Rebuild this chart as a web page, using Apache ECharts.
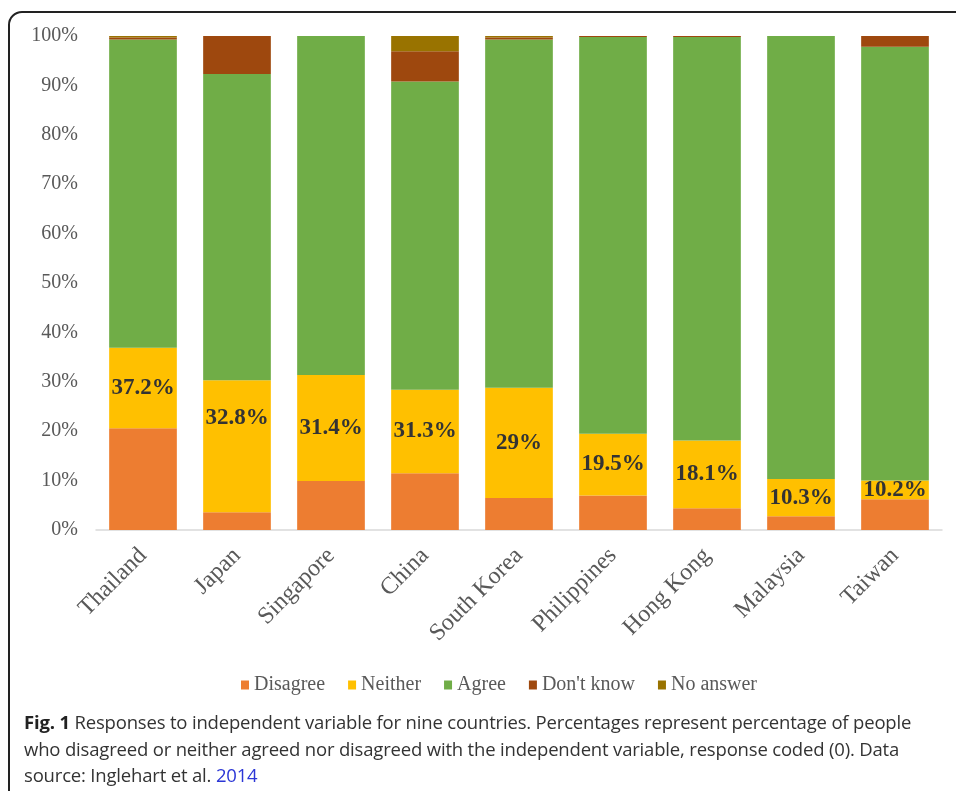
<!DOCTYPE html>
<html>
<head>
<meta charset="utf-8">
<script src="https://cdn.jsdelivr.net/npm/echarts@6/dist/echarts.min.js"></script>
<style>
  html, body { margin: 0; padding: 0; background: #fff; }
  body { width: 956px; height: 791px; position: relative; overflow: hidden; }
  .frame {
    position: absolute; left: 8px; top: 11px; width: 980px; height: 820px;
    border: 2px solid #222; border-radius: 14px; box-sizing: border-box;
  }
  #chart { position: absolute; left: 0; top: 0; width: 956px; height: 710px; }
  .caption {
    position: absolute; left: 24px; top: 709px; width: 930px; white-space: nowrap;
    font-family: "Open Sans", "Noto Sans", sans-serif; font-size: 18.5px;
    line-height: 26.5px; color: #333; letter-spacing: -0.18px;
  }
  .caption b { color: #222; }
  .caption a { color: #2b36d6; text-decoration: none; }
</style>
</head>
<body>
<div class="frame"></div>
<div id="chart"></div>
<div class="caption"><b>Fig. 1</b> Responses to independent variable for nine countries. Percentages represent percentage of people<br>who disagreed or neither agreed nor disagreed with the independent variable, response coded (0). Data<br>source: Inglehart et al. <a>2014</a></div>
<script>
// Countries along the x axis
const countries = ['Thailand', 'Japan', 'Singapore', 'China', 'South Korea',
                   'Philippines', 'Hong Kong', 'Malaysia', 'Taiwan'];

// Share of all respondents (%) per response
const disagree = [20.6, 3.6, 9.9, 11.5, 6.5, 7.0, 4.4, 2.8, 6.2];
const neither  = [16.3, 26.7, 21.5, 16.9, 22.3, 12.5, 13.7, 7.5, 3.8];
const agree    = [62.4, 62.0, 68.6, 62.4, 70.5, 80.3, 81.7, 89.7, 87.8];
const dontKnow = [0.4, 7.7, 0.0, 6.1, 0.4, 0.2, 0.2, 0.0, 2.2];
const noAnswer = [0.3, 0.0, 0.0, 3.1, 0.3, 0.0, 0.0, 0.0, 0.0];

// Disagree + neither as a share of valid (answered) responses
const codedZero = ['37.2%', '32.8%', '31.4%', '31.3%', '29%', '19.5%', '18.1%', '10.3%', '10.2%'];

const yTicks = { min: 0, max: 100, interval: 10 };

const serif = '"Liberation Serif", "Times New Roman", serif';
const colors = ['#ED7D31', '#FFC000', '#70AD47', '#9E480E', '#997300'];

const chart = echarts.init(document.getElementById('chart'), null, { renderer: 'canvas' });

function stack(name, values, extra) {
  return Object.assign({
    name: name, type: 'bar', stack: 'all', data: values,
    barCategoryGap: '28%', emphasis: { disabled: true }
  }, extra || {});
}

const neitherData = neither.map((v, i) => {
  const d = { value: v };
  if (countries[i] === 'Japan') d.label = { offset: [0, -28] };
  return d;
});

chart.setOption({
  animation: false,
  color: colors,
  textStyle: { fontFamily: serif },
  grid: { left: 96, right: 14, top: 36, bottom: 180, containLabel: false },
  legend: {
    bottom: 10, left: 236,
    icon: 'rect', itemWidth: 8, itemHeight: 9, itemGap: 23,
    textStyle: { fontFamily: serif, fontSize: 20, color: '#595959' },
    data: ['Disagree', 'Neither', 'Agree', "Don't know", 'No answer']
  },
  xAxis: {
    type: 'category', data: countries,
    axisLine: { lineStyle: { color: '#D9D9D9', width: 1.5 } },
    axisTick: { show: false },
    axisLabel: { rotate: 45, margin: 22, fontFamily: serif, fontSize: 24, color: '#595959', interval: 0 }
  },
  yAxis: {
    type: 'value', min: yTicks.min, max: yTicks.max, interval: yTicks.interval,
    axisLine: { show: false }, axisTick: { show: false }, splitLine: { show: false },
    axisLabel: { formatter: '{value}%', margin: 18, fontFamily: serif, fontSize: 20, color: '#595959' }
  },
  series: [
    stack('Disagree', disagree),
    stack('Neither', neitherData, {
      label: {
        show: true, position: 'inside',
        formatter: p => codedZero[p.dataIndex],
        fontFamily: serif, fontWeight: 'bold', fontSize: 23, color: '#333'
      }
    }),
    stack('Agree', agree),
    stack("Don't know", dontKnow),
    stack('No answer', noAnswer)
  ]
});
</script>
</body>
</html>
